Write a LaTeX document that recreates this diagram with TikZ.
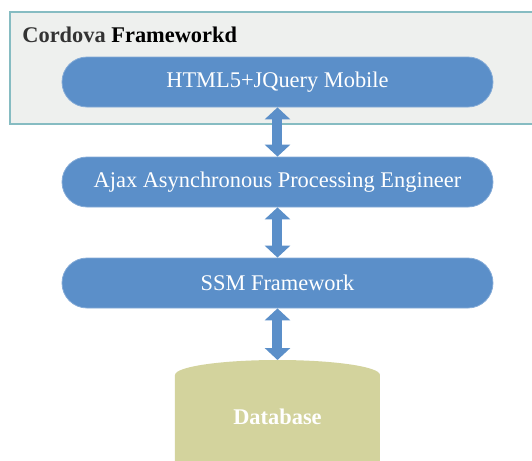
\documentclass[tikz,border=0pt]{standalone}
\usepackage{fontspec}
\setmainfont{Liberation Serif}
\usepackage{tikz}
\usetikzlibrary{arrows.meta}
\usetikzlibrary{positioning}
\definecolor{pillblue}{HTML}{5B8FC9}
\definecolor{framefill}{HTML}{EEF0EE}
\definecolor{frameline}{HTML}{86BCC2}
\definecolor{dbfill}{HTML}{D3D39D}

\begin{document}
\begin{tikzpicture}[x=0.5pt,y=-0.5pt,
	pill/.style={fill=pillblue, draw=pillblue!75!white, line width=0.4pt, rounded corners=12.5pt, minimum width=215.5pt, minimum height=25pt, text=white, font=\fontsize{11.2}{13}\selectfont},
	link/.style={draw=pillblue, line width=5pt, {Triangle[width=12.5pt,length=6pt]}-{Triangle[width=12.5pt,length=6pt]}}]
	\useasboundingbox (0,0) rectangle (532,461);
	\clip (0,0) rectangle (532,461);
	\fill [framefill, draw=frameline, line width=0.7pt] (10,12) rectangle (545,124);
	\node [anchor=west, font=\fontsize{11.2}{13}\selectfont\bfseries, text=black!80, inner sep=0pt] (cordova) at (22,35) {Cordova \textcolor{black}{Frameworkd}};
	\node [pill] (html) at (277.5,82) {HTML5+JQuery Mobile};
	\node [pill] (ajax) at (277.5,182) {Ajax Asynchronous Processing Engineer};
	\node [pill] (ssm) at (277.5,283) {SSM Framework};
	\fill [dbfill] (175,375) arc [start angle=180, end angle=360, x radius=102.5, y radius=15] -- (380,480) arc [start angle=0, end angle=180, x radius=102.5, y radius=15] -- cycle;
	\coordinate (dbtop) at (277.5,360);
	\node [text=white, font=\fontsize{11.2}{13}\selectfont\bfseries] (db) at (277.5,417) {Database};
	\draw [link] (html.south) -- (ajax.north);
	\draw [link] (ajax.south) -- (ssm.north);
	\draw [link] (ssm.south) -- (dbtop);
\end{tikzpicture}
\end{document}
